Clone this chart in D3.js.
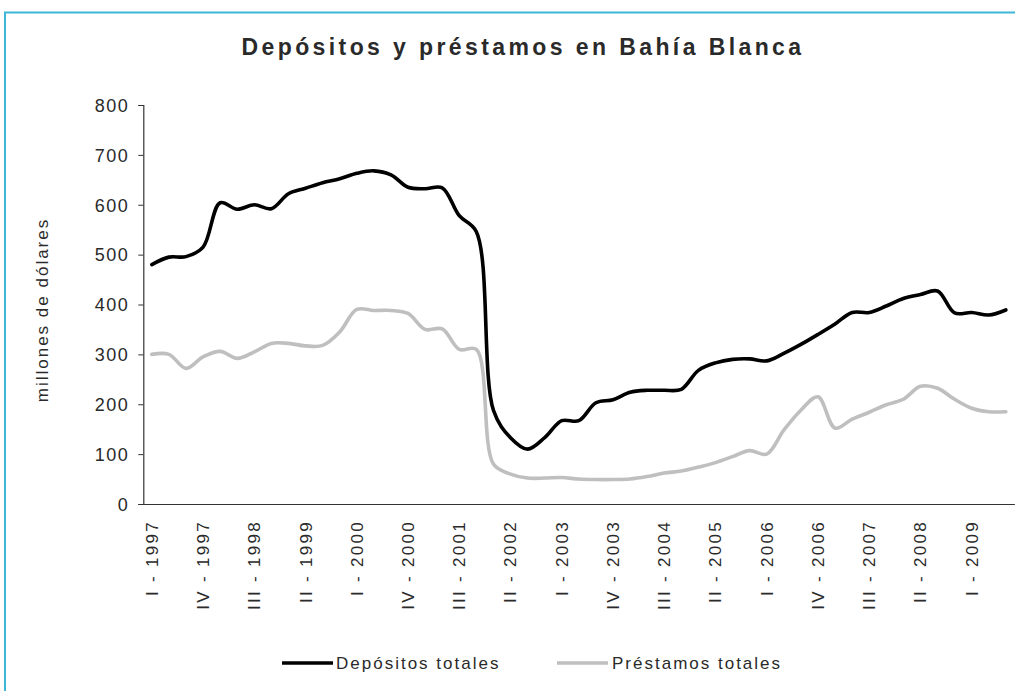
<!DOCTYPE html>
<html>
<head>
<meta charset="utf-8">
<script src="https://cdn.jsdelivr.net/npm/d3@7"></script>
<style>
  html, body { margin: 0; padding: 0; background: #fff; }
  svg { display: block; }
  text { font-family: "Liberation Sans", Arial, Helvetica, sans-serif; fill: #2a2a2a; }
</style>
</head>
<body>
<svg id="chart" width="1015" height="691"></svg>
<script>
const categories = [
  "I - 1997","II - 1997","III - 1997","IV - 1997",
  "I - 1998","II - 1998","III - 1998","IV - 1998",
  "I - 1999","II - 1999","III - 1999","IV - 1999",
  "I - 2000","II - 2000","III - 2000","IV - 2000",
  "I - 2001","II - 2001","III - 2001","IV - 2001",
  "I - 2002","II - 2002","III - 2002","IV - 2002",
  "I - 2003","II - 2003","III - 2003","IV - 2003",
  "I - 2004","II - 2004","III - 2004","IV - 2004",
  "I - 2005","II - 2005","III - 2005","IV - 2005",
  "I - 2006","II - 2006","III - 2006","IV - 2006",
  "I - 2007","II - 2007","III - 2007","IV - 2007",
  "I - 2008","II - 2008","III - 2008","IV - 2008",
  "I - 2009","II - 2009","III - 2009"
];
const depositos = [
  480, 495, 496, 515, 604, 591, 600, 592, 622, 633,
  644, 652, 663, 668, 660, 635, 632, 634, 578, 546,
  188, 133, 110, 133, 167, 167, 203, 209, 224, 228,
  228, 230, 268, 283, 290, 291, 287, 302, 320, 340,
  361, 384, 384, 397, 412, 420, 427, 383, 384, 379,
  389
];
const prestamos = [
  300, 300, 272, 295, 306, 292, 305, 322, 322, 317,
  318, 345, 390, 388, 388, 382, 350, 351, 310, 310,
  80, 60, 52, 52, 53, 50, 49, 49, 50, 55,
  62, 66, 74, 83, 95, 107, 100, 148, 188, 215,
  152, 170, 184, 199, 210, 236, 232, 210, 192, 185,
  185
];
const yTicks = [0, 100, 200, 300, 400, 500, 600, 700, 800];
const seriesNames = ["Depósitos totales", "Préstamos totales"];
const seriesColors = ["#000000", "#bfbfbf"];
const titleText = "Depósitos y préstamos en Bahía Blanca";
const yTitle = "millones de dólares";

const svg = d3.select("#chart");
svg.append("rect").attr("width", 1015).attr("height", 691).attr("fill", "#fff");

// cyan frame
svg.append("path")
  .attr("d", "M5,691 L5,12.5 L1015,12.5")
  .attr("fill", "none").attr("stroke", "#3cb6d6").attr("stroke-width", 2);

const plotL = 143.3, plotR = 143.3 + 51 * 17.08, plotT = 105, plotB = 504;

const x = d3.scaleBand().domain(categories).range([plotL, plotR]).paddingInner(0).paddingOuter(0);
const y = d3.scaleLinear().domain([0, 800]).range([plotB, plotT]);

// title
svg.append("text")
  .attr("x", 523).attr("y", 55)
  .attr("text-anchor", "middle")
  .style("font-size", "23px").style("font-weight", "bold")
  .style("letter-spacing", "3.4px")
  .attr("fill", "#1a1a1a")
  .text(titleText);

// y axis
const yAxis = d3.axisLeft(y).tickValues(yTicks).tickSize(5).tickPadding(9);
const gy = svg.append("g").attr("transform", `translate(${plotL},0)`).call(yAxis);
gy.select(".domain").attr("stroke", "#333").attr("stroke-width", 1.2);
gy.selectAll(".tick line").attr("stroke", "#333");
gy.selectAll(".tick text")
  .style("font-family", "'Liberation Sans', Arial, sans-serif")
  .style("font-size", "18px").style("letter-spacing", "1.5px")
  .attr("fill", "#2a2a2a").attr("dy", "0.35em");

// x axis
const shown = categories.filter((d, i) => i % 3 === 0);
const xAxis = d3.axisBottom(x).tickValues(shown).tickSize(0).tickPadding(0);
const gx = svg.append("g").attr("transform", `translate(0,${plotB})`).call(xAxis);
gx.select(".domain").attr("stroke", "#333").attr("stroke-width", 1.2);
gx.selectAll(".tick text")
  .style("font-family", "'Liberation Sans', Arial, sans-serif")
  .style("font-size", "17px").style("letter-spacing", "2.3px")
  .attr("fill", "#2a2a2a")
  .attr("text-anchor", "end")
  .attr("transform", "rotate(-90)")
  .attr("x", -16).attr("y", 0).attr("dy", "0.35em");

// y title
svg.append("text")
  .attr("transform", "translate(48,310) rotate(-90)")
  .attr("text-anchor", "middle")
  .style("font-size", "17px").style("letter-spacing", "2px")
  .text(yTitle);

// lines
const line = d3.line()
  .x((d, i) => x(categories[i]) + x.bandwidth() / 2)
  .y(d => y(d))
  .curve(d3.curveCatmullRom.alpha(0.5));

[prestamos, depositos].forEach((s, k) => {
  const idx = k === 0 ? 1 : 0;
  svg.append("path").datum(s)
    .attr("d", line)
    .attr("fill", "none")
    .attr("stroke", seriesColors[idx])
    .attr("stroke-width", 3.6)
    .attr("stroke-linejoin", "round")
    .attr("stroke-linecap", "round");
});

// legend
const legendItems = [{x: 282, tx: 336}, {x: 557, tx: 612}];
legendItems.forEach((p, i) => {
  svg.append("line")
    .attr("x1", p.x).attr("x2", p.x + 51)
    .attr("y1", 663).attr("y2", 663)
    .attr("stroke", seriesColors[i]).attr("stroke-width", 3.6);
  svg.append("text")
    .attr("x", p.tx).attr("y", 663).attr("dy", "0.35em")
    .style("font-size", "17px").style("letter-spacing", "2px")
    .text(seriesNames[i]);
});
</script>
</body>
</html>
